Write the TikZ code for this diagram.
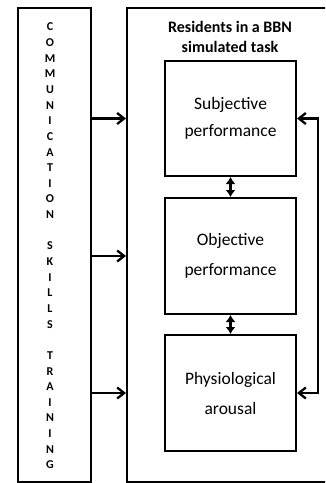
\documentclass[tikz,border=0pt]{standalone}
\usepackage{fontspec}
\setmainfont{Carlito}
\usetikzlibrary{arrows.meta}
\tikzset{
box/.style = {draw, line width=2pt, inner sep=0pt, minimum width=#1},
box/.default = 131pt, % width of the inner boxes
link/.style = {line width=2.3pt, -{Straight Barb[length=7pt,width=11pt]}},
feedback/.style = {line width=2.3pt, {Straight Barb[length=7pt,width=11pt]}-{Straight Barb[length=7pt,width=11pt]}},
twoway/.style = {line width=2.3pt, {Latex[length=7pt,width=10pt]}-{Latex[length=7pt,width=10pt]}}
}

\begin{document}
\begin{tikzpicture}[x=1pt,y=-1pt]
  \clip (0,0) rectangle (325,483);
  % outer boxes
  \node [box=73pt, minimum height=474pt] (training) at (54.5,245) {};
  \node [box=213pt, minimum height=474pt] (residents) at (233.5,245) {};
  \node [font=\bfseries\fontsize{12}{15.64}\selectfont, align=center] (letters) at (50,246)
    {C\\O\\M\\M\\U\\N\\I\\C\\A\\T\\I\\O\\N\\~\\S\\K\\I\\L\\L\\S\\~\\T\\R\\A\\I\\N\\I\\N\\G};
  \node [font=\bfseries\fontsize{16}{20}\selectfont, align=center] (title) at (230,37)
    {Residents in a BBN\\simulated task};
  % inner boxes
  \node [box, minimum height=115pt, align=center, font=\fontsize{17.5}{27}\selectfont] (subj) at (230.5,118.5)
    {Subjective\\performance};
  \node [box, minimum height=116pt, align=center, font=\fontsize{17.5}{30}\selectfont] (obj) at (230.5,256)
    {Objective\\performance};
  \node [box, minimum height=116pt, align=center, font=\fontsize{17.5}{30}\selectfont] (phys) at (230.5,393)
    {Physiological\\arousal};
  % connectors
  \draw [link] (training.east |- subj) -- (residents.west |- subj);
  \draw [link] (training.east |- obj) -- (residents.west |- obj);
  \draw [link] (training.east |- phys) -- (residents.west |- phys);
  \draw [twoway] (subj) -- (obj);
  \draw [twoway] (obj) -- (phys);
  \draw [feedback] (subj.east) -- ++(21,0) |- (phys.east);
\end{tikzpicture}
\end{document}
